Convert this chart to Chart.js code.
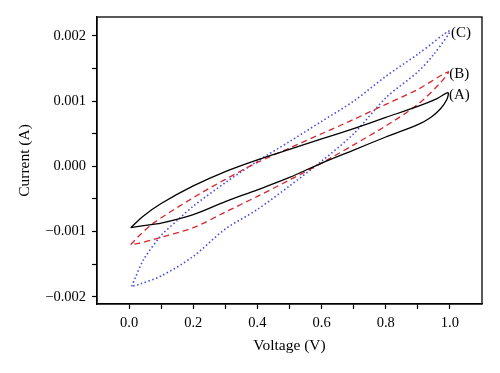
<!DOCTYPE html>
<html lang="en">
<head>
    <meta charset="UTF-8">
    <title>I-V loops</title>
    <script src="https://cdn.jsdelivr.net/npm/chart.js"></script>
    <style>
        html, body { margin: 0; padding: 0; background: #fff; }
        #box { width: 500px; height: 373px; }
    </style>
</head>
<body>
    <div id="box"><canvas id="myChart"></canvas></div>
    <script>
            // loops: left tip -> upper branch -> right tip -> lower branch -> back
            const voltA = [0.005, 0.045, 0.1, 0.2, 0.3, 0.4, 0.5, 0.6, 0.7, 0.8, 0.9, 0.96, 0.994,
                           0.99, 0.97, 0.94, 0.9, 0.8, 0.7, 0.6, 0.5, 0.4, 0.3, 0.2, 0.1, 0.045, 0.005];
            const currA = [-0.00094, -0.00076, -0.00057, -0.00030, -0.00008, 0.00010, 0.00026, 0.00042, 0.00058, 0.00075, 0.00092, 0.00104, 0.00113,
                           0.00102, 0.00088, 0.00075, 0.00064, 0.00045, 0.00025, 0.00005, -0.00017, -0.00036, -0.00054, -0.00074, -0.00087, -0.00091, -0.00094];

            const voltB = [0.005, 0.03, 0.076, 0.2, 0.3, 0.4, 0.5, 0.6, 0.7, 0.8, 0.9, 0.995,
                           0.97, 0.9, 0.8, 0.7, 0.6, 0.5, 0.4, 0.3, 0.2, 0.076, 0.03, 0.005];
            const currB = [-0.0012, -0.00107, -0.00087, -0.00048, -0.0002, 0.00006, 0.00028, 0.0005, 0.00072, 0.00095, 0.00118, 0.00145,
                           0.00128, 0.00095, 0.00062, 0.00033, 0.00005, -0.00021, -0.00046, -0.0007, -0.00094, -0.00112, -0.00118, -0.0012];

            const voltC = [0.008, 0.02, 0.045, 0.1, 0.15, 0.2, 0.3, 0.4, 0.5, 0.6, 0.7, 0.8, 0.9, 1.0,
                           0.95, 0.9, 0.8, 0.7, 0.6, 0.5, 0.4, 0.3, 0.2, 0.1, 0.03, 0.008];
            const currC = [-0.00184, -0.0017, -0.00143, -0.00106, -0.00083, -0.00061, -0.00025, 0.00008, 0.00038, 0.00069, 0.001, 0.00138, 0.00172, 0.00208,
                           0.00172, 0.00145, 0.00105, 0.0005, 0.00008, -0.0003, -0.00066, -0.00096, -0.00138, -0.00168, -0.00181, -0.00184];

            const curveNames = ['(A)', '(B)', '(C)'];
            const curveColors = ['#000000', '#d8262c', '#4b4bdc'];

            function toPoints(xs, ys) {
                return xs.map((v, i) => ({ x: v, y: ys[i] }));
            }

            const serif = "'Liberation Serif', 'DejaVu Serif', serif";

            // tip labels next to the right end of each loop
            const tipLabels = {
                id: 'tipLabels',
                afterDatasetsDraw(chart) {
                    const { ctx, scales } = chart;
                    const tips = [[voltA, currA], [voltB, currB], [voltC, currC]];
                    ctx.save();
                    ctx.font = '15px ' + serif;
                    ctx.fillStyle = '#000';
                    ctx.textBaseline = 'middle';
                    ctx.textAlign = 'left';
                    tips.forEach((t, k) => {
                        let m = 0;
                        t[0].forEach((v, i) => { if (v > t[0][m]) m = i; });
                        const px = scales.x.getPixelForValue(t[0][m]);
                        const py = scales.y.getPixelForValue(t[1][m]);
                        ctx.fillText(curveNames[k], px + 1, py + 2);
                    });
                    ctx.restore();
                }
            };

            const frame = {
                id: 'frame',
                afterDraw(chart) {
                    const a = chart.chartArea;
                    const ctx = chart.ctx;
                    ctx.save();
                    ctx.strokeStyle = '#000';
                    ctx.lineWidth = 1.3;
                    ctx.strokeRect(a.left, a.top, a.right - a.left, a.bottom - a.top);
                    ctx.restore();
                }
            };

            const isMult = (v, s) => Math.abs(v / s - Math.round(v / s)) < 1e-6;

            const ctx = document.getElementById('myChart').getContext('2d');
            const myChart = new Chart(ctx, {
                type: 'scatter',
                data: {
                    datasets: [
                        {
                            label: curveNames[0],
                            data: toPoints(voltA, currA),
                            borderColor: curveColors[0],
                            borderWidth: 1.3,
                            showLine: true,
                            tension: 0.3,
                            pointRadius: 0
                        },
                        {
                            label: curveNames[1],
                            data: toPoints(voltB, currB),
                            borderColor: curveColors[1],
                            borderWidth: 1.3,
                            borderDash: [6, 4],
                            showLine: true,
                            tension: 0.3,
                            pointRadius: 0
                        },
                        {
                            label: curveNames[2],
                            data: toPoints(voltC, currC),
                            borderColor: curveColors[2],
                            borderWidth: 1.6,
                            borderDash: [1.5, 2.5],
                            showLine: true,
                            tension: 0.3,
                            pointRadius: 0
                        }
                    ]
                },
                options: {
                    responsive: true,
                    maintainAspectRatio: false,
                    animation: false,
                    layout: { padding: { top: 17, right: 18, left: 0, bottom: 0 } },
                    plugins: {
                        legend: { display: false },
                        tooltip: { enabled: false }
                    },
                    scales: {
                        x: {
                            type: 'linear',
                            min: -0.1,
                            max: 1.1,
                            afterFit: (s) => { s.height = 69; },
                            border: { display: true, color: '#000', width: 1.3 },
                            grid: {
                                drawOnChartArea: false,
                                drawTicks: true,
                                tickLength: 5,
                                tickColor: (c) => (c.tick && c.tick.value > -0.05 && c.tick.value < 1.05) ? '#000' : 'rgba(0,0,0,0)',
                                tickWidth: 1.2
                            },
                            ticks: {
                                stepSize: 0.1,
                                includeBounds: false,
                                autoSkip: false,
                                maxRotation: 0,
                                padding: 5,
                                color: '#000',
                                font: { family: serif, size: 14.5 },
                                callback: (v) => (isMult(v, 0.2) && v > -0.05 && v < 1.05) ? Math.abs(v).toFixed(1) : ''
                            },
                            title: {
                                display: true,
                                text: 'Voltage (V)',
                                color: '#000',
                                font: { family: serif, size: 15.5 },
                                padding: { top: 0, bottom: 18 }
                            }
                        },
                        y: {
                            type: 'linear',
                            min: -0.00211,
                            max: 0.00229,
                            afterFit: (s) => { s.width = 97; },
                            border: { display: true, color: '#000', width: 1.3 },
                            grid: {
                                drawOnChartArea: false,
                                drawTicks: true,
                                tickLength: 5,
                                tickColor: '#000',
                                tickWidth: 1.2
                            },
                            ticks: {
                                stepSize: 0.0005,
                                includeBounds: false,
                                autoSkip: false,
                                padding: 6,
                                color: '#000',
                                font: { family: serif, size: 14.5 },
                                callback: (v) => {
                                    if (!isMult(v, 0.001)) return '';
                                    const k = Math.round(v * 1000);
                                    return (k < 0 ? '\u2212' : '') + (Math.abs(k) / 1000).toFixed(3);
                                }
                            },
                            title: {
                                display: true,
                                text: 'Current (A)',
                                color: '#000',
                                font: { family: serif, size: 15.5 },
                                padding: { top: 16, bottom: 0 }
                            }
                        }
                    }
                },
                plugins: [tipLabels, frame]
            });
    </script>
</body>
</html>
